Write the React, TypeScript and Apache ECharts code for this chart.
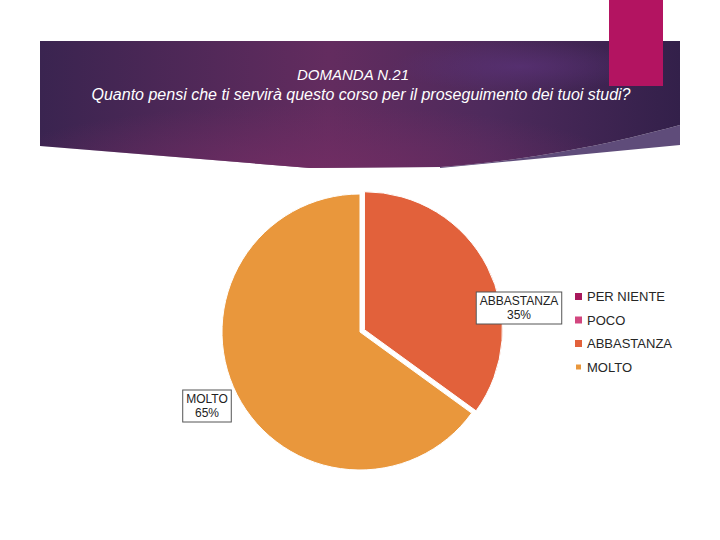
import React, { useEffect, useRef } from "react";
import * as echarts from "echarts";

const categories = ["PER NIENTE", "POCO", "ABBASTANZA", "MOLTO"];
const values = [0, 0, 35, 65];
const colors = ["#A8185C", "#D2467F", "#E2613B", "#E9973C"];
const explodedCategory = "ABBASTANZA";
const titleLines = [
  "DOMANDA N.21",
  "Quanto pensi che ti servirà questo corso per il proseguimento dei tuoi studi?",
];

function curve(p0: number[], c: number[], p1: number[], n: number) {
  const pts: number[][] = [];
  for (let i = 0; i <= n; i++) {
    const t = i / n;
    const x = (1 - t) * (1 - t) * p0[0] + 2 * (1 - t) * t * c[0] + t * t * p1[0];
    const y = (1 - t) * (1 - t) * p0[1] + 2 * (1 - t) * t * c[1] + t * t * p1[1];
    pts.push([x, y]);
  }
  return pts;
}

export default function App() {
  const ref = useRef<HTMLDivElement>(null);
  useEffect(() => {
    if (!ref.current) return;
    const chart = echarts.init(ref.current, undefined, { renderer: "svg" });

    const bannerPts = [
      [40, 41],
      [680, 41],
      ...curve([680, 125], [560, 158], [440, 167], 20),
      [310, 168],
      [40, 146],
    ];
    const bandPts = [
      ...curve([680, 125], [560, 158], [440, 167], 20),
      [440, 168],
      [680, 145],
    ];

    const labelPos: Record<string, number[]> = {
      ABBASTANZA: [519, 308],
      MOLTO: [207, 406],
    };

    const cx = 360;
    const cy = 332;
    const R = 138;
    const total = values.reduce((a, b) => a + b, 0);
    let before = 0;
    for (let i = 0; i < categories.length; i++) {
      if (categories[i] === explodedCategory) break;
      before += values[i];
    }
    const idx = categories.indexOf(explodedCategory);
    const midDeg = 90 - ((before + values[idx] / 2) / total) * 360;
    const off = 5;
    const ox = off * Math.cos((midDeg * Math.PI) / 180);
    const oy = -off * Math.sin((midDeg * Math.PI) / 180);

    const font = "'Liberation Sans', Arial, sans-serif";
    const labelStyle = {
      show: true,
      formatter: "{b}\n{d}%",
      fontFamily: font,
      fontSize: 12,
      lineHeight: 14,
      color: "#222222",
      backgroundColor: "#ffffff",
      borderColor: "#555555",
      borderWidth: 1,
      padding: [2, 3, 1, 3],
      align: "center",
    };
    const labelLayout = (params: any) => {
      const name = categories[params.dataIndex];
      const p = labelPos[name];
      if (!p) return {};
      return { x: p[0], y: p[1], align: "center", verticalAlign: "middle" };
    };
    const hidden = {
      itemStyle: { color: "transparent", borderWidth: 0 },
      label: { show: false },
    };

    chart.setOption({
      animation: false,
      backgroundColor: "#ffffff",
      graphic: [
        {
          type: "polygon",
          shape: { points: bandPts },
          style: { fill: "#5F4C7A" },
          z: 1,
        },
        {
          type: "polygon",
          shape: { points: bannerPts },
          style: {
            fill: {
              type: "linear",
              x: 0,
              y: 0,
              x2: 1,
              y2: 0,
              colorStops: [
                { offset: 0, color: "#3A2450" },
                { offset: 0.45, color: "#632C5F" },
                { offset: 0.7, color: "#4E2A5C" },
                { offset: 1, color: "#33204A" },
              ],
            },
          },
          z: 2,
        },
        {
          type: "polygon",
          shape: { points: bannerPts },
          style: {
            fill: {
              type: "radial",
              x: 0.42,
              y: 1,
              r: 0.5,
              colorStops: [
                { offset: 0, color: "rgba(115,45,100,0.8)" },
                { offset: 1, color: "rgba(115,45,100,0)" },
              ],
            },
          },
          z: 3,
        },
        {
          type: "polygon",
          shape: { points: bannerPts },
          style: {
            fill: {
              type: "radial",
              x: 0.75,
              y: 0.2,
              r: 0.2,
              colorStops: [
                { offset: 0, color: "rgba(90,50,120,0.7)" },
                { offset: 1, color: "rgba(90,50,120,0)" },
              ],
            },
          },
          z: 3,
        },
        {
          type: "rect",
          shape: { x: 609, y: 0, width: 54, height: 86 },
          style: { fill: "#B31461" },
          z: 5,
        },
        {
          type: "text",
          x: 353,
          y: 74,
          style: {
            text: titleLines[0],
            fill: "#ffffff",
            font: "italic 15px 'Liberation Sans', Arial, sans-serif",
            align: "center",
            verticalAlign: "middle",
          },
          z: 6,
        },
        {
          type: "text",
          x: 361,
          y: 94,
          style: {
            text: titleLines[1],
            fill: "#ffffff",
            font: "italic 16px 'Liberation Sans', Arial, sans-serif",
            align: "center",
            verticalAlign: "middle",
          },
          z: 6,
        },
      ],
      legend: {
        orient: "vertical",
        left: 574,
        top: 290,
        padding: 0,
        itemWidth: 7,
        itemHeight: 7,
        itemGap: 10.5,
        icon: "rect",
        data: categories.map((c, i) => ({ name: c, itemStyle: { color: colors[i] } })),
        textStyle: {
          fontFamily: font,
          fontSize: 13,
          color: "#262626",
        },
      },
      series: [
        {
          type: "pie",
          center: [cx, cy],
          radius: R,
          startAngle: 90,
          clockwise: true,
          avoidLabelOverlap: false,
          itemStyle: { borderColor: "#ffffff", borderWidth: 1 },
          emphasis: { disabled: true },
          labelLine: { show: false },
          label: labelStyle,
          labelLayout,
          data: categories.map((c, i) =>
            c === explodedCategory || values[i] === 0
              ? { name: c, value: values[i], ...hidden }
              : { name: c, value: values[i], itemStyle: { color: colors[i] } }
          ),
        },
        {
          type: "pie",
          center: [cx + ox, cy + oy],
          radius: R,
          startAngle: 90,
          clockwise: true,
          avoidLabelOverlap: false,
          itemStyle: { borderColor: "#ffffff", borderWidth: 1 },
          emphasis: { disabled: true },
          labelLine: { show: false },
          label: labelStyle,
          labelLayout,
          data: categories.map((c, i) =>
            c === explodedCategory
              ? { name: c, value: values[i], itemStyle: { color: colors[i] } }
              : { name: c, value: values[i], ...hidden }
          ),
        },
      ],
    });
    return () => chart.dispose();
  }, []);
  return (
    <div
      ref={ref}
      style={{ position: "fixed", left: 0, top: 0, width: 720, height: 540 }}
    />
  );
}
